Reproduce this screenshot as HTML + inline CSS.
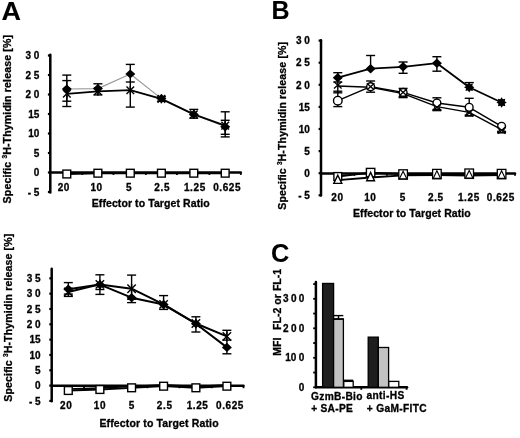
<!DOCTYPE html>
<html><head><meta charset="utf-8"><style>
html,body{margin:0;padding:0;background:#fff;width:520px;height:438px;overflow:hidden}
svg{display:block;will-change:transform}
text{font-family:"Liberation Sans", sans-serif;font-weight:bold;fill:#000;stroke:#000;stroke-width:0.3px}
</style></head><body>
<svg width="520" height="438" viewBox="0 0 520 438">
<text x="1.6" y="19.9" font-size="25.2" text-anchor="start" style="stroke-width:0.1px" transform="translate(1.6,0) scale(1.07,1) translate(-1.6,0)">A</text>
<line x1="50.3" y1="54.8" x2="50.3" y2="192.5" stroke="#000" stroke-width="2.5" stroke-linecap="round"/>
<line x1="47.9" y1="55.5" x2="50.3" y2="55.5" stroke="#000" stroke-width="2.2" />
<line x1="47.9" y1="75" x2="50.3" y2="75" stroke="#000" stroke-width="2.2" />
<line x1="47.9" y1="94.5" x2="50.3" y2="94.5" stroke="#000" stroke-width="2.2" />
<line x1="47.9" y1="114" x2="50.3" y2="114" stroke="#000" stroke-width="2.2" />
<line x1="47.9" y1="133.5" x2="50.3" y2="133.5" stroke="#000" stroke-width="2.2" />
<line x1="47.9" y1="153" x2="50.3" y2="153" stroke="#000" stroke-width="2.2" />
<line x1="47.9" y1="172.5" x2="50.3" y2="172.5" stroke="#000" stroke-width="2.2" />
<line x1="47.9" y1="192" x2="50.3" y2="192" stroke="#000" stroke-width="2.2" />
<text x="39.3" y="59.2" font-size="10" text-anchor="end" >3<tspan dx="2.7">0</tspan></text>
<text x="39.3" y="78.7" font-size="10" text-anchor="end" >2<tspan dx="2.7">5</tspan></text>
<text x="39.3" y="98.2" font-size="10" text-anchor="end" >2<tspan dx="2.7">0</tspan></text>
<text x="39.3" y="117.7" font-size="10" text-anchor="end" >15</text>
<text x="39.3" y="137.2" font-size="10" text-anchor="end" >10</text>
<text x="39.3" y="156.7" font-size="10" text-anchor="end" >5</text>
<text x="39.3" y="176.2" font-size="10" text-anchor="end" >0</text>
<text x="39.3" y="195.7" font-size="10" text-anchor="end" >-<tspan dx="2.7">5</tspan></text>
<line x1="50.3" y1="172.5" x2="240.8" y2="172.5" stroke="#000" stroke-width="2.5" stroke-linecap="round"/>
<line x1="82.35" y1="172.5" x2="82.35" y2="174.9" stroke="#000" stroke-width="1.8" />
<line x1="113.45" y1="172.5" x2="113.45" y2="174.9" stroke="#000" stroke-width="1.8" />
<line x1="145.85" y1="172.5" x2="145.85" y2="174.9" stroke="#000" stroke-width="1.8" />
<line x1="176.95" y1="172.5" x2="176.95" y2="174.9" stroke="#000" stroke-width="1.8" />
<line x1="209.35" y1="172.5" x2="209.35" y2="174.9" stroke="#000" stroke-width="1.8" />
<line x1="240.8" y1="172.5" x2="240.8" y2="174.9" stroke="#000" stroke-width="1.8" />
<text x="63.8" y="191.3" font-size="10" text-anchor="middle" letter-spacing="0.6">20</text>
<text x="96.6" y="191.3" font-size="10" text-anchor="middle" letter-spacing="0.6">10</text>
<text x="129.05" y="191.3" font-size="10" text-anchor="middle" letter-spacing="0.6">5</text>
<text x="162.2" y="191.3" font-size="10" text-anchor="middle" letter-spacing="0.6">2.5</text>
<text x="194.9" y="191.3" font-size="10" text-anchor="middle" letter-spacing="0.6">1.25</text>
<text x="227.2" y="191.3" font-size="10" text-anchor="middle" letter-spacing="0.6">0.625</text>
<text x="91.7" y="206.9" font-size="10.5" textLength="118" lengthAdjust="spacing" >Effector to Target Ratio</text>
<text transform="translate(11.2,203.4) rotate(-90)" font-size="10.6" textLength="168.5" lengthAdjust="spacing">Specific <tspan font-size="6.5" dy="-3.8">3</tspan><tspan dy="3.8">H-Thymidin release [%]</tspan></text>
<polyline points="66.8,174 97.9,173.2 130.3,173.2 161.4,173.2 193.8,173.2 225.2,173.2" fill="none" stroke="#000" stroke-width="2.2" stroke-linejoin="round"/>
<line x1="66.8" y1="75.1" x2="66.8" y2="101.2" stroke="#000" stroke-width="1.4" />
<line x1="62.3" y1="75.1" x2="71.3" y2="75.1" stroke="#000" stroke-width="1.4" />
<line x1="62.3" y1="101.2" x2="71.3" y2="101.2" stroke="#000" stroke-width="1.4" />
<line x1="66.8" y1="80.6" x2="66.8" y2="106.5" stroke="#000" stroke-width="1.4" />
<line x1="62.3" y1="80.6" x2="71.3" y2="80.6" stroke="#000" stroke-width="1.4" />
<line x1="62.3" y1="106.5" x2="71.3" y2="106.5" stroke="#000" stroke-width="1.4" />
<line x1="97.9" y1="83.8" x2="97.9" y2="94.9" stroke="#000" stroke-width="1.4" />
<line x1="93.4" y1="83.8" x2="102.4" y2="83.8" stroke="#000" stroke-width="1.4" />
<line x1="93.4" y1="94.9" x2="102.4" y2="94.9" stroke="#000" stroke-width="1.4" />
<line x1="130.3" y1="64.4" x2="130.3" y2="82" stroke="#000" stroke-width="1.4" />
<line x1="125.8" y1="64.4" x2="134.8" y2="64.4" stroke="#000" stroke-width="1.4" />
<line x1="125.8" y1="82" x2="134.8" y2="82" stroke="#000" stroke-width="1.4" />
<line x1="130.3" y1="82" x2="130.3" y2="107.1" stroke="#000" stroke-width="1.4" />
<line x1="125.8" y1="107.1" x2="134.8" y2="107.1" stroke="#000" stroke-width="1.4" />
<line x1="161.4" y1="96.6" x2="161.4" y2="101.2" stroke="#000" stroke-width="1.4" />
<line x1="156.9" y1="96.6" x2="165.9" y2="96.6" stroke="#000" stroke-width="1.4" />
<line x1="156.9" y1="101.2" x2="165.9" y2="101.2" stroke="#000" stroke-width="1.4" />
<line x1="193.8" y1="109.4" x2="193.8" y2="118.2" stroke="#000" stroke-width="1.4" />
<line x1="189.3" y1="109.4" x2="198.3" y2="109.4" stroke="#000" stroke-width="1.4" />
<line x1="189.3" y1="118.2" x2="198.3" y2="118.2" stroke="#000" stroke-width="1.4" />
<line x1="225.2" y1="111.8" x2="225.2" y2="134.3" stroke="#000" stroke-width="1.4" />
<line x1="220.7" y1="111.8" x2="229.7" y2="111.8" stroke="#000" stroke-width="1.4" />
<line x1="220.7" y1="134.3" x2="229.7" y2="134.3" stroke="#000" stroke-width="1.4" />
<line x1="225.2" y1="120.3" x2="225.2" y2="136.9" stroke="#000" stroke-width="1.4" />
<line x1="220.7" y1="120.3" x2="229.7" y2="120.3" stroke="#000" stroke-width="1.4" />
<line x1="220.7" y1="136.9" x2="229.7" y2="136.9" stroke="#000" stroke-width="1.4" />
<polyline points="66.8,89 97.9,88.6 130.3,74 161.4,98.6 193.8,114.4 225.2,126.8" fill="none" stroke="#9a9a9a" stroke-width="1.2" stroke-linejoin="round"/>
<polyline points="66.8,93.8 97.9,91.3 130.3,90.2 161.4,98.9 193.8,114.4 225.2,125.6" fill="none" stroke="#000" stroke-width="1.8" stroke-linejoin="round"/>
<path d="M66.8,84.4L71.8,89L66.8,93.6L61.8,89Z" fill="#000"/>
<path d="M97.9,84L102.9,88.6L97.9,93.2L92.9,88.6Z" fill="#000"/>
<path d="M130.3,69.4L135.3,74L130.3,78.6L125.3,74Z" fill="#000"/>
<path d="M161.4,94L166.4,98.6L161.4,103.2L156.4,98.6Z" fill="#000"/>
<path d="M193.8,109.8L198.8,114.4L193.8,119L188.8,114.4Z" fill="#000"/>
<path d="M225.2,122.2L230.2,126.8L225.2,131.4L220.2,126.8Z" fill="#000"/>
<line x1="63" y1="90" x2="70.6" y2="97.6" stroke="#000" stroke-width="1.4" />
<line x1="63" y1="97.6" x2="70.6" y2="90" stroke="#000" stroke-width="1.4" />
<line x1="66.8" y1="89.4" x2="66.8" y2="98.2" stroke="#000" stroke-width="1.4" />
<line x1="94.1" y1="87.5" x2="101.7" y2="95.1" stroke="#000" stroke-width="1.4" />
<line x1="94.1" y1="95.1" x2="101.7" y2="87.5" stroke="#000" stroke-width="1.4" />
<line x1="97.9" y1="86.9" x2="97.9" y2="95.7" stroke="#000" stroke-width="1.4" />
<line x1="126.5" y1="86.4" x2="134.1" y2="94" stroke="#000" stroke-width="1.4" />
<line x1="126.5" y1="94" x2="134.1" y2="86.4" stroke="#000" stroke-width="1.4" />
<line x1="130.3" y1="85.8" x2="130.3" y2="94.6" stroke="#000" stroke-width="1.4" />
<line x1="157.6" y1="95.1" x2="165.2" y2="102.7" stroke="#000" stroke-width="1.4" />
<line x1="157.6" y1="102.7" x2="165.2" y2="95.1" stroke="#000" stroke-width="1.4" />
<line x1="161.4" y1="94.5" x2="161.4" y2="103.3" stroke="#000" stroke-width="1.4" />
<line x1="190" y1="110.6" x2="197.6" y2="118.2" stroke="#000" stroke-width="1.4" />
<line x1="190" y1="118.2" x2="197.6" y2="110.6" stroke="#000" stroke-width="1.4" />
<line x1="193.8" y1="110" x2="193.8" y2="118.8" stroke="#000" stroke-width="1.4" />
<line x1="221.4" y1="121.8" x2="229" y2="129.4" stroke="#000" stroke-width="1.4" />
<line x1="221.4" y1="129.4" x2="229" y2="121.8" stroke="#000" stroke-width="1.4" />
<line x1="225.2" y1="121.2" x2="225.2" y2="130" stroke="#000" stroke-width="1.4" />
<rect x="62.9" y="170.1" width="7.8" height="7.8" fill="#fff" stroke="#000" stroke-width="1.4"/>
<rect x="94" y="169.3" width="7.8" height="7.8" fill="#fff" stroke="#000" stroke-width="1.4"/>
<rect x="126.4" y="169.3" width="7.8" height="7.8" fill="#fff" stroke="#000" stroke-width="1.4"/>
<rect x="157.5" y="169.3" width="7.8" height="7.8" fill="#fff" stroke="#000" stroke-width="1.4"/>
<rect x="189.9" y="169.3" width="7.8" height="7.8" fill="#fff" stroke="#000" stroke-width="1.4"/>
<rect x="221.3" y="169.3" width="7.8" height="7.8" fill="#fff" stroke="#000" stroke-width="1.4"/>
<line x1="51.7" y1="268.8" x2="51.7" y2="401.3" stroke="#000" stroke-width="2.5" stroke-linecap="round"/>
<line x1="49.3" y1="278.33" x2="51.7" y2="278.33" stroke="#000" stroke-width="2.2" />
<line x1="49.3" y1="293.65" x2="51.7" y2="293.65" stroke="#000" stroke-width="2.2" />
<line x1="49.3" y1="308.98" x2="51.7" y2="308.98" stroke="#000" stroke-width="2.2" />
<line x1="49.3" y1="324.3" x2="51.7" y2="324.3" stroke="#000" stroke-width="2.2" />
<line x1="49.3" y1="339.62" x2="51.7" y2="339.62" stroke="#000" stroke-width="2.2" />
<line x1="49.3" y1="354.95" x2="51.7" y2="354.95" stroke="#000" stroke-width="2.2" />
<line x1="49.3" y1="370.28" x2="51.7" y2="370.28" stroke="#000" stroke-width="2.2" />
<line x1="49.3" y1="385.6" x2="51.7" y2="385.6" stroke="#000" stroke-width="2.2" />
<line x1="49.3" y1="400.93" x2="51.7" y2="400.93" stroke="#000" stroke-width="2.2" />
<text x="40.6" y="282.03" font-size="10" text-anchor="end" >3<tspan dx="2.7">5</tspan></text>
<text x="40.6" y="297.35" font-size="10" text-anchor="end" >3<tspan dx="2.7">0</tspan></text>
<text x="40.6" y="312.68" font-size="10" text-anchor="end" >2<tspan dx="2.7">5</tspan></text>
<text x="40.6" y="328" font-size="10" text-anchor="end" >2<tspan dx="2.7">0</tspan></text>
<text x="40.6" y="343.32" font-size="10" text-anchor="end" >15</text>
<text x="40.6" y="358.65" font-size="10" text-anchor="end" >10</text>
<text x="40.6" y="373.98" font-size="10" text-anchor="end" >5</text>
<text x="40.6" y="389.3" font-size="10" text-anchor="end" >0</text>
<text x="40.6" y="404.62" font-size="10" text-anchor="end" >-<tspan dx="2.7">5</tspan></text>
<line x1="51.7" y1="385.8" x2="243.5" y2="385.8" stroke="#000" stroke-width="2.5" stroke-linecap="round"/>
<line x1="84.1" y1="385.8" x2="84.1" y2="388.2" stroke="#000" stroke-width="1.8" />
<line x1="115.7" y1="385.8" x2="115.7" y2="388.2" stroke="#000" stroke-width="1.8" />
<line x1="147.4" y1="385.8" x2="147.4" y2="388.2" stroke="#000" stroke-width="1.8" />
<line x1="179.4" y1="385.8" x2="179.4" y2="388.2" stroke="#000" stroke-width="1.8" />
<line x1="211.7" y1="385.8" x2="211.7" y2="388.2" stroke="#000" stroke-width="1.8" />
<line x1="243.5" y1="385.8" x2="243.5" y2="388.2" stroke="#000" stroke-width="1.8" />
<text x="66.2" y="408.6" font-size="10" text-anchor="middle" letter-spacing="0.6">20</text>
<text x="99.9" y="408.6" font-size="10" text-anchor="middle" letter-spacing="0.6">10</text>
<text x="131.9" y="408.6" font-size="10" text-anchor="middle" letter-spacing="0.6">5</text>
<text x="164.7" y="408.6" font-size="10" text-anchor="middle" letter-spacing="0.6">2.5</text>
<text x="197.6" y="408.6" font-size="10" text-anchor="middle" letter-spacing="0.6">1.25</text>
<text x="230" y="408.6" font-size="10" text-anchor="middle" letter-spacing="0.6">0.625</text>
<text x="99.4" y="426.9" font-size="10.5" textLength="119.2" lengthAdjust="spacing" >Effector to Target Ratio</text>
<text transform="translate(12.2,401.7) rotate(-90)" font-size="10.6" textLength="168" lengthAdjust="spacing">Specific <tspan font-size="6.5" dy="-3.8">3</tspan><tspan dy="3.8">H-Thymidin release [%]</tspan></text>
<polyline points="68.3,390.5 99.9,389.5 131.6,387.8 163.6,386.2 195.9,387.8 226.9,386.2" fill="none" stroke="#000" stroke-width="1.8" stroke-linejoin="round"/>
<polyline points="68.3,389.1 99.9,388.1 131.6,386.4 163.6,384.8 195.9,386.4 226.9,384.8" fill="none" stroke="#000" stroke-width="1.5" stroke-linejoin="round"/>
<line x1="68.3" y1="282.6" x2="68.3" y2="294.1" stroke="#000" stroke-width="1.4" />
<line x1="63.8" y1="282.6" x2="72.8" y2="282.6" stroke="#000" stroke-width="1.4" />
<line x1="63.8" y1="294.1" x2="72.8" y2="294.1" stroke="#000" stroke-width="1.4" />
<line x1="63.8" y1="296.4" x2="72.8" y2="296.4" stroke="#000" stroke-width="1.4" />
<line x1="99.9" y1="274.8" x2="99.9" y2="294.4" stroke="#000" stroke-width="1.4" />
<line x1="95.4" y1="274.8" x2="104.4" y2="274.8" stroke="#000" stroke-width="1.4" />
<line x1="95.4" y1="294.4" x2="104.4" y2="294.4" stroke="#000" stroke-width="1.4" />
<line x1="95.4" y1="289.5" x2="104.4" y2="289.5" stroke="#000" stroke-width="1.4" />
<line x1="131.6" y1="275.1" x2="131.6" y2="302.6" stroke="#000" stroke-width="1.4" />
<line x1="127.1" y1="275.1" x2="136.1" y2="275.1" stroke="#000" stroke-width="1.4" />
<line x1="127.1" y1="302.6" x2="136.1" y2="302.6" stroke="#000" stroke-width="1.4" />
<line x1="127.1" y1="299.3" x2="136.1" y2="299.3" stroke="#000" stroke-width="1.4" />
<line x1="163.6" y1="295.6" x2="163.6" y2="309.4" stroke="#000" stroke-width="1.4" />
<line x1="159.1" y1="295.6" x2="168.1" y2="295.6" stroke="#000" stroke-width="1.4" />
<line x1="159.1" y1="309.4" x2="168.1" y2="309.4" stroke="#000" stroke-width="1.4" />
<line x1="195.9" y1="316.8" x2="195.9" y2="332" stroke="#000" stroke-width="1.4" />
<line x1="191.4" y1="316.8" x2="200.4" y2="316.8" stroke="#000" stroke-width="1.4" />
<line x1="191.4" y1="332" x2="200.4" y2="332" stroke="#000" stroke-width="1.4" />
<line x1="226.9" y1="330.3" x2="226.9" y2="353.8" stroke="#000" stroke-width="1.4" />
<line x1="222.4" y1="330.3" x2="231.4" y2="330.3" stroke="#000" stroke-width="1.4" />
<line x1="222.4" y1="353.8" x2="231.4" y2="353.8" stroke="#000" stroke-width="1.4" />
<line x1="222.4" y1="340.1" x2="231.4" y2="340.1" stroke="#000" stroke-width="1.4" />
<polyline points="68.3,289.2 99.9,284.6 131.6,297.7 163.6,304.6 195.9,323.7 226.9,347.4" fill="none" stroke="#000" stroke-width="2.0" stroke-linejoin="round"/>
<polyline points="68.3,292 99.9,284.4 131.6,288.7 163.6,304.4 195.9,323.5 226.9,336.4" fill="none" stroke="#000" stroke-width="2.0" stroke-linejoin="round"/>
<path d="M68.3,284.6L73.3,289.2L68.3,293.8L63.3,289.2Z" fill="#000"/>
<path d="M99.9,280L104.9,284.6L99.9,289.2L94.9,284.6Z" fill="#000"/>
<path d="M131.6,293.1L136.6,297.7L131.6,302.3L126.6,297.7Z" fill="#000"/>
<path d="M163.6,300L168.6,304.6L163.6,309.2L158.6,304.6Z" fill="#000"/>
<path d="M195.9,319.1L200.9,323.7L195.9,328.3L190.9,323.7Z" fill="#000"/>
<path d="M226.9,342.8L231.9,347.4L226.9,352L221.9,347.4Z" fill="#000"/>
<line x1="64.1" y1="287.8" x2="72.5" y2="296.2" stroke="#000" stroke-width="1.4" />
<line x1="64.1" y1="296.2" x2="72.5" y2="287.8" stroke="#000" stroke-width="1.4" />
<line x1="68.3" y1="287.2" x2="68.3" y2="296.8" stroke="#000" stroke-width="1.4" />
<line x1="95.7" y1="280.2" x2="104.1" y2="288.6" stroke="#000" stroke-width="1.4" />
<line x1="95.7" y1="288.6" x2="104.1" y2="280.2" stroke="#000" stroke-width="1.4" />
<line x1="99.9" y1="279.6" x2="99.9" y2="289.2" stroke="#000" stroke-width="1.4" />
<line x1="127.4" y1="284.5" x2="135.8" y2="292.9" stroke="#000" stroke-width="1.4" />
<line x1="127.4" y1="292.9" x2="135.8" y2="284.5" stroke="#000" stroke-width="1.4" />
<line x1="131.6" y1="283.9" x2="131.6" y2="293.5" stroke="#000" stroke-width="1.4" />
<line x1="159.4" y1="300.2" x2="167.8" y2="308.6" stroke="#000" stroke-width="1.4" />
<line x1="159.4" y1="308.6" x2="167.8" y2="300.2" stroke="#000" stroke-width="1.4" />
<line x1="163.6" y1="299.6" x2="163.6" y2="309.2" stroke="#000" stroke-width="1.4" />
<line x1="191.7" y1="319.3" x2="200.1" y2="327.7" stroke="#000" stroke-width="1.4" />
<line x1="191.7" y1="327.7" x2="200.1" y2="319.3" stroke="#000" stroke-width="1.4" />
<line x1="195.9" y1="318.7" x2="195.9" y2="328.3" stroke="#000" stroke-width="1.4" />
<line x1="222.7" y1="332.2" x2="231.1" y2="340.6" stroke="#000" stroke-width="1.4" />
<line x1="222.7" y1="340.6" x2="231.1" y2="332.2" stroke="#000" stroke-width="1.4" />
<line x1="226.9" y1="331.6" x2="226.9" y2="341.2" stroke="#000" stroke-width="1.4" />
<rect x="64.4" y="386.6" width="7.8" height="7.8" fill="#fff" stroke="#000" stroke-width="1.4"/>
<rect x="96" y="385.6" width="7.8" height="7.8" fill="#fff" stroke="#000" stroke-width="1.4"/>
<rect x="127.7" y="383.9" width="7.8" height="7.8" fill="#fff" stroke="#000" stroke-width="1.4"/>
<rect x="159.7" y="382.3" width="7.8" height="7.8" fill="#fff" stroke="#000" stroke-width="1.4"/>
<rect x="192" y="383.9" width="7.8" height="7.8" fill="#fff" stroke="#000" stroke-width="1.4"/>
<rect x="223" y="382.3" width="7.8" height="7.8" fill="#fff" stroke="#000" stroke-width="1.4"/>
<text x="271.6" y="18.9" font-size="25" text-anchor="start" style="stroke-width:0.1px">B</text>
<line x1="321" y1="40.2" x2="321" y2="195.4" stroke="#000" stroke-width="2.5" stroke-linecap="round"/>
<line x1="318.6" y1="40.6" x2="321" y2="40.6" stroke="#000" stroke-width="2.2" />
<line x1="318.6" y1="62.7" x2="321" y2="62.7" stroke="#000" stroke-width="2.2" />
<line x1="318.6" y1="84.8" x2="321" y2="84.8" stroke="#000" stroke-width="2.2" />
<line x1="318.6" y1="106.9" x2="321" y2="106.9" stroke="#000" stroke-width="2.2" />
<line x1="318.6" y1="129" x2="321" y2="129" stroke="#000" stroke-width="2.2" />
<line x1="318.6" y1="151.1" x2="321" y2="151.1" stroke="#000" stroke-width="2.2" />
<line x1="318.6" y1="173.2" x2="321" y2="173.2" stroke="#000" stroke-width="2.2" />
<line x1="318.6" y1="195.3" x2="321" y2="195.3" stroke="#000" stroke-width="2.2" />
<text x="309.8" y="44.3" font-size="10" text-anchor="end" >3<tspan dx="2.7">0</tspan></text>
<text x="309.8" y="66.4" font-size="10" text-anchor="end" >2<tspan dx="2.7">5</tspan></text>
<text x="309.8" y="88.5" font-size="10" text-anchor="end" >2<tspan dx="2.7">0</tspan></text>
<text x="309.8" y="110.6" font-size="10" text-anchor="end" >15</text>
<text x="309.8" y="132.7" font-size="10" text-anchor="end" >10</text>
<text x="309.8" y="154.8" font-size="10" text-anchor="end" >5</text>
<text x="309.8" y="176.9" font-size="10" text-anchor="end" >0</text>
<text x="309.8" y="199" font-size="10" text-anchor="end" >-<tspan dx="2.7">5</tspan></text>
<line x1="321" y1="173.4" x2="515" y2="173.4" stroke="#000" stroke-width="2.5" stroke-linecap="round"/>
<line x1="354.2" y1="173.4" x2="354.2" y2="175.8" stroke="#000" stroke-width="1.8" />
<line x1="387" y1="173.4" x2="387" y2="175.8" stroke="#000" stroke-width="1.8" />
<line x1="419.5" y1="173.4" x2="419.5" y2="175.8" stroke="#000" stroke-width="1.8" />
<line x1="453.3" y1="173.4" x2="453.3" y2="175.8" stroke="#000" stroke-width="1.8" />
<line x1="485.6" y1="173.4" x2="485.6" y2="175.8" stroke="#000" stroke-width="1.8" />
<line x1="515" y1="173.4" x2="515" y2="175.8" stroke="#000" stroke-width="1.8" />
<text x="337.5" y="201.4" font-size="10" text-anchor="middle" letter-spacing="0.6">20</text>
<text x="370.3" y="201.4" font-size="10" text-anchor="middle" letter-spacing="0.6">10</text>
<text x="402.8" y="201.4" font-size="10" text-anchor="middle" letter-spacing="0.6">5</text>
<text x="435.9" y="201.4" font-size="10" text-anchor="middle" letter-spacing="0.6">2.5</text>
<text x="468.9" y="201.4" font-size="10" text-anchor="middle" letter-spacing="0.6">1.25</text>
<text x="500.8" y="201.4" font-size="10" text-anchor="middle" letter-spacing="0.6">0.625</text>
<text x="353" y="217.3" font-size="10.5" textLength="117.7" lengthAdjust="spacing" >Effector to Target Ratio</text>
<text transform="translate(285.8,209.7) rotate(-90)" font-size="10.6" textLength="167.8" lengthAdjust="spacing">Specific <tspan font-size="6.5" dy="-3.8">3</tspan><tspan dy="3.8">H-Thymidin release [%]</tspan></text>
<polyline points="337.8,176.5 370.6,172.6 403.1,174.2 436.9,174.2 469.2,173.8 501.6,174.2" fill="none" stroke="#000" stroke-width="1.8" stroke-linejoin="round"/>
<polyline points="337.8,180.2 370.6,177.5 403.1,175.4 436.9,175.2 469.2,175.6 501.6,175.2" fill="none" stroke="#000" stroke-width="1.8" stroke-linejoin="round"/>
<line x1="337.8" y1="72.7" x2="337.8" y2="82" stroke="#000" stroke-width="1.4" />
<line x1="333.3" y1="72.7" x2="342.3" y2="72.7" stroke="#000" stroke-width="1.4" />
<line x1="333.3" y1="82" x2="342.3" y2="82" stroke="#000" stroke-width="1.4" />
<line x1="337.8" y1="82" x2="337.8" y2="106.6" stroke="#000" stroke-width="1.4" />
<line x1="333.3" y1="91.2" x2="342.3" y2="91.2" stroke="#000" stroke-width="1.4" />
<line x1="333.3" y1="92.8" x2="342.3" y2="92.8" stroke="#000" stroke-width="1.4" />
<line x1="333.3" y1="106.6" x2="342.3" y2="106.6" stroke="#000" stroke-width="1.4" />
<line x1="370.6" y1="55.5" x2="370.6" y2="68.7" stroke="#000" stroke-width="1.4" />
<line x1="366.1" y1="55.5" x2="375.1" y2="55.5" stroke="#000" stroke-width="1.4" />
<line x1="370.6" y1="81" x2="370.6" y2="92.2" stroke="#000" stroke-width="1.4" />
<line x1="366.1" y1="81" x2="375.1" y2="81" stroke="#000" stroke-width="1.4" />
<line x1="366.1" y1="92.2" x2="375.1" y2="92.2" stroke="#000" stroke-width="1.4" />
<line x1="403.1" y1="62" x2="403.1" y2="73.3" stroke="#000" stroke-width="1.4" />
<line x1="398.6" y1="62" x2="407.6" y2="62" stroke="#000" stroke-width="1.4" />
<line x1="398.6" y1="73.3" x2="407.6" y2="73.3" stroke="#000" stroke-width="1.4" />
<line x1="403.1" y1="88.4" x2="403.1" y2="97.6" stroke="#000" stroke-width="1.4" />
<line x1="398.6" y1="88.4" x2="407.6" y2="88.4" stroke="#000" stroke-width="1.4" />
<line x1="398.6" y1="97.6" x2="407.6" y2="97.6" stroke="#000" stroke-width="1.4" />
<line x1="398.6" y1="96.6" x2="407.6" y2="96.6" stroke="#000" stroke-width="1.4" />
<line x1="436.9" y1="56.7" x2="436.9" y2="71.2" stroke="#000" stroke-width="1.4" />
<line x1="432.4" y1="56.7" x2="441.4" y2="56.7" stroke="#000" stroke-width="1.4" />
<line x1="432.4" y1="71.2" x2="441.4" y2="71.2" stroke="#000" stroke-width="1.4" />
<line x1="436.9" y1="97.8" x2="436.9" y2="110.6" stroke="#000" stroke-width="1.4" />
<line x1="432.4" y1="97.8" x2="441.4" y2="97.8" stroke="#000" stroke-width="1.4" />
<line x1="432.4" y1="110.6" x2="441.4" y2="110.6" stroke="#000" stroke-width="1.4" />
<line x1="432.4" y1="109.6" x2="441.4" y2="109.6" stroke="#000" stroke-width="1.4" />
<line x1="469.2" y1="82.6" x2="469.2" y2="87.3" stroke="#000" stroke-width="1.4" />
<line x1="464.6" y1="82.6" x2="473.8" y2="82.6" stroke="#000" stroke-width="1.4" />
<line x1="469.2" y1="98.3" x2="469.2" y2="116" stroke="#000" stroke-width="1.4" />
<line x1="464.7" y1="98.3" x2="473.7" y2="98.3" stroke="#000" stroke-width="1.4" />
<line x1="464.7" y1="116" x2="473.7" y2="116" stroke="#000" stroke-width="1.4" />
<line x1="464.7" y1="115" x2="473.7" y2="115" stroke="#000" stroke-width="1.4" />
<line x1="497.1" y1="132.4" x2="506.1" y2="132.4" stroke="#000" stroke-width="1.4" />
<line x1="497.1" y1="131.4" x2="506.1" y2="131.4" stroke="#000" stroke-width="1.4" />
<polyline points="337.8,77.7 370.6,68.7 403.1,66.8 436.9,63.2 469.2,87.3 501.6,102.5" fill="none" stroke="#000" stroke-width="1.8" stroke-linejoin="round"/>
<polyline points="337.8,86 370.6,87.2 403.1,93.6 436.9,106.6 469.2,112.4 501.6,129.6" fill="none" stroke="#000" stroke-width="1.4" stroke-linejoin="round"/>
<polyline points="337.8,100.7 370.6,86.7 403.1,92.4 436.9,103 469.2,107.3 501.6,126.3" fill="none" stroke="#000" stroke-width="1.4" stroke-linejoin="round"/>
<path d="M337.8,73L342.8,77.7L337.8,82.4L332.8,77.7Z" fill="#000"/>
<path d="M370.6,64L375.6,68.7L370.6,73.4L365.6,68.7Z" fill="#000"/>
<path d="M403.1,62.1L408.1,66.8L403.1,71.5L398.1,66.8Z" fill="#000"/>
<path d="M436.9,58.5L441.9,63.2L436.9,67.9L431.9,63.2Z" fill="#000"/>
<polygon points="474.4,87.3 472.34,88.6 472.88,90.98 470.5,90.44 469.2,92.5 467.9,90.44 465.52,90.98 466.06,88.6 464,87.3 466.06,86 465.52,83.62 467.9,84.16 469.2,82.1 470.5,84.16 472.88,83.62 472.34,86" fill="#000"/>
<polygon points="506.8,102.5 504.74,103.8 505.28,106.18 502.9,105.64 501.6,107.7 500.3,105.64 497.92,106.18 498.46,103.8 496.4,102.5 498.46,101.2 497.92,98.82 500.3,99.36 501.6,97.3 502.9,99.36 505.28,98.82 504.74,101.2" fill="#000"/>
<path d="M436.9,103.46L440.2,109.73L433.6,109.73Z" fill="#fff" stroke="#000" stroke-width="1.3" stroke-linejoin="miter"/>
<path d="M469.2,109.27L472.5,115.54L465.9,115.54Z" fill="#fff" stroke="#000" stroke-width="1.3" stroke-linejoin="miter"/>
<path d="M501.6,126.46L504.9,132.73L498.3,132.73Z" fill="#fff" stroke="#000" stroke-width="1.3" stroke-linejoin="miter"/>
<circle cx="337.8" cy="100.7" r="4.3" fill="#fff" stroke="#000" stroke-width="1.4"/>
<circle cx="370.6" cy="86.7" r="3.9" fill="#fff" stroke="#000" stroke-width="1.4"/>
<circle cx="403.1" cy="92.4" r="3.9" fill="#fff" stroke="#000" stroke-width="1.4"/>
<circle cx="436.9" cy="103" r="3.9" fill="#fff" stroke="#000" stroke-width="1.4"/>
<circle cx="469.2" cy="107.3" r="3.9" fill="#fff" stroke="#000" stroke-width="1.4"/>
<circle cx="501.6" cy="126.3" r="3.9" fill="#fff" stroke="#000" stroke-width="1.4"/>
<line x1="334" y1="81.8" x2="341.6" y2="88.6" stroke="#000" stroke-width="1.3" />
<line x1="334" y1="88.6" x2="341.6" y2="81.8" stroke="#000" stroke-width="1.3" />
<line x1="366.8" y1="83.3" x2="374.4" y2="90.1" stroke="#000" stroke-width="1.3" />
<line x1="366.8" y1="90.1" x2="374.4" y2="83.3" stroke="#000" stroke-width="1.3" />
<line x1="399.3" y1="89" x2="406.9" y2="95.8" stroke="#000" stroke-width="1.3" />
<line x1="399.3" y1="95.8" x2="406.9" y2="89" stroke="#000" stroke-width="1.3" />
<line x1="433.1" y1="104" x2="440.7" y2="110.8" stroke="#000" stroke-width="1.3" />
<line x1="433.1" y1="110.8" x2="440.7" y2="104" stroke="#000" stroke-width="1.3" />
<line x1="465.4" y1="109.4" x2="473" y2="116.2" stroke="#000" stroke-width="1.3" />
<line x1="465.4" y1="116.2" x2="473" y2="109.4" stroke="#000" stroke-width="1.3" />
<line x1="497.8" y1="127" x2="505.4" y2="133.8" stroke="#000" stroke-width="1.3" />
<line x1="497.8" y1="133.8" x2="505.4" y2="127" stroke="#000" stroke-width="1.3" />
<rect x="333.9" y="172.6" width="7.8" height="7.8" fill="#fff" stroke="#000" stroke-width="1.4"/>
<path d="M337.8,175.2L341.8,183.4L333.8,183.4Z" fill="#fff" stroke="#000" stroke-width="1.4" stroke-linejoin="miter"/>
<rect x="366.4" y="168.4" width="8.4" height="8.4" fill="#fff" stroke="#000" stroke-width="1.4"/>
<path d="M370.6,172.4L374.5,180.8L366.7,180.8Z" fill="#fff" stroke="#000" stroke-width="1.4" stroke-linejoin="miter"/>
<rect x="398.8" y="169.8" width="8.6" height="9.4" fill="#fff" stroke="#000" stroke-width="1.3"/>
<path d="M403.1,171.2L406.8,178.8L399.4,178.8Z" fill="#fff" stroke="#000" stroke-width="1.1" stroke-linejoin="miter"/>
<rect x="432.6" y="169.4" width="8.6" height="9.4" fill="#fff" stroke="#000" stroke-width="1.3"/>
<path d="M436.9,170.8L440.6,178.4L433.2,178.4Z" fill="#fff" stroke="#000" stroke-width="1.1" stroke-linejoin="miter"/>
<rect x="464.9" y="169" width="8.6" height="9.4" fill="#fff" stroke="#000" stroke-width="1.3"/>
<path d="M469.2,170.4L472.9,178L465.5,178Z" fill="#fff" stroke="#000" stroke-width="1.1" stroke-linejoin="miter"/>
<rect x="497.3" y="169.4" width="8.6" height="9.4" fill="#fff" stroke="#000" stroke-width="1.3"/>
<path d="M501.6,170.8L505.3,178.4L497.9,178.4Z" fill="#fff" stroke="#000" stroke-width="1.1" stroke-linejoin="miter"/>
<text x="270.9" y="261.6" font-size="25.3" text-anchor="start" style="stroke-width:0.1px">C</text>
<line x1="315.9" y1="282" x2="315.9" y2="387.3" stroke="#000" stroke-width="2.5" stroke-linecap="round"/>
<line x1="313.2" y1="387.3" x2="315.9" y2="387.3" stroke="#000" stroke-width="1.8" />
<line x1="313.2" y1="372.55" x2="315.9" y2="372.55" stroke="#000" stroke-width="1.8" />
<line x1="313.2" y1="357.8" x2="315.9" y2="357.8" stroke="#000" stroke-width="1.8" />
<line x1="313.2" y1="343.05" x2="315.9" y2="343.05" stroke="#000" stroke-width="1.8" />
<line x1="313.2" y1="328.3" x2="315.9" y2="328.3" stroke="#000" stroke-width="1.8" />
<line x1="313.2" y1="313.55" x2="315.9" y2="313.55" stroke="#000" stroke-width="1.8" />
<line x1="313.2" y1="298.8" x2="315.9" y2="298.8" stroke="#000" stroke-width="1.8" />
<line x1="313.2" y1="284.05" x2="315.9" y2="284.05" stroke="#000" stroke-width="1.8" />
<text x="304.4" y="302.1" font-size="10" text-anchor="end" >3<tspan dx="2.4">0</tspan><tspan dx="2.4">0</tspan></text>
<text x="304.4" y="331.6" font-size="10" text-anchor="end" >2<tspan dx="2.4">0</tspan><tspan dx="2.4">0</tspan></text>
<text x="304.4" y="361.1" font-size="10" text-anchor="end" >10<tspan dx="2.4">0</tspan></text>
<text x="304.4" y="390.6" font-size="10" text-anchor="end" >0</text>
<line x1="315.9" y1="387.3" x2="407" y2="387.3" stroke="#000" stroke-width="2.5" stroke-linecap="round"/>
<line x1="361.3" y1="387.3" x2="361.3" y2="389.8" stroke="#000" stroke-width="1.8" />
<line x1="406.6" y1="387.3" x2="406.6" y2="389.8" stroke="#000" stroke-width="1.8" />
<rect x="322.6" y="283.46" width="11" height="103.84" fill="#1e1e1e" stroke="#000" stroke-width="1.3"/>
<rect x="333.6" y="318.86" width="9.8" height="68.44" fill="#c2c2c2" stroke="#000" stroke-width="1.3"/>
<line x1="338.5" y1="315.6" x2="338.5" y2="319.2" stroke="#000" stroke-width="1.4" />
<line x1="333.7" y1="315.6" x2="343.3" y2="315.6" stroke="#000" stroke-width="1.4" />
<line x1="333.7" y1="319.2" x2="343.3" y2="319.2" stroke="#000" stroke-width="1.4" />
<rect x="343.8" y="381.4" width="9.4" height="5.9" fill="#fff" stroke="#000" stroke-width="1.3"/>
<line x1="343.7" y1="380.3" x2="353.3" y2="380.3" stroke="#000" stroke-width="1.4" />
<rect x="368.2" y="337.15" width="10.1" height="50.15" fill="#1e1e1e" stroke="#000" stroke-width="1.3"/>
<rect x="378.3" y="347.48" width="10.3" height="39.82" fill="#c2c2c2" stroke="#000" stroke-width="1.3"/>
<rect x="388.8" y="381.4" width="10" height="5.9" fill="#fff" stroke="#000" stroke-width="1.3"/>
<text x="311" y="399.5" font-size="10.2" textLength="51.5" lengthAdjust="spacing" >GzmB-Bio</text>
<text x="311.2" y="411.6" font-size="10.2" textLength="41.6" lengthAdjust="spacing" >+ SA-PE</text>
<text x="366.5" y="399.4" font-size="10.2" textLength="37.8" lengthAdjust="spacing" >anti-HS</text>
<text x="366.7" y="411.6" font-size="10.2" textLength="60" lengthAdjust="spacing" >+ GaM-FITC</text>
<text transform="translate(281.0,355.8) rotate(-90)" font-size="10.6">MFI<tspan dx="7.6">FL-2 or FL-1</tspan></text>
</svg>
</body></html>
